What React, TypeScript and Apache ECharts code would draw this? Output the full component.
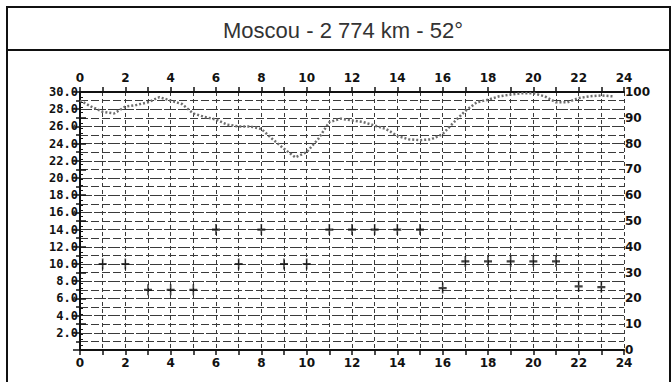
import React, { useEffect, useRef } from "react";
import * as echarts from "echarts";

const TITLE = "Moscou - 2 774 km - 52°";

// Dotted grey curve (left axis), sampled every half hour
const curveHours = [0, 0.5, 1, 1.5, 2, 2.5, 3, 3.5, 4, 4.5, 5, 5.5, 6, 6.5, 7, 7.5, 8, 8.5, 9, 9.5, 10, 10.5, 11, 11.5, 12, 12.5, 13, 13.5, 14, 14.5, 15, 15.5, 16, 16.5, 17, 17.5, 18, 18.5, 19, 19.5, 20, 20.5, 21, 21.5, 22, 22.5, 23, 23.5];
const curveValues = [29.0, 28.3, 27.7, 27.5, 28.3, 28.5, 28.8, 29.4, 29.0, 28.6, 27.5, 27.1, 26.8, 26.2, 26.0, 26.0, 25.7, 24.5, 23.4, 22.4, 23.0, 24.5, 26.5, 26.9, 26.7, 26.5, 26.1, 25.7, 24.9, 24.5, 24.4, 24.5, 25.1, 26.5, 27.8, 28.8, 29.1, 29.5, 29.7, 29.85, 29.85, 29.5, 28.8, 28.8, 29.3, 29.5, 29.6, 29.5];

// Black "+" marks (left axis), one per hour
const markHours = [1, 2, 3, 4, 5, 6, 7, 8, 9, 10, 11, 12, 13, 14, 15, 16, 17, 18, 19, 20, 21, 22, 23];
const markValues = [10, 10, 7, 7, 7, 14, 10, 14, 10, 10, 14, 14, 14, 14, 14, 7.2, 10.3, 10.3, 10.3, 10.3, 10.3, 7.4, 7.3];

const labelFont = "DejaVu Sans";
const monoFont = "DejaVu Sans Mono";

export default function App() {
  const ref = useRef<HTMLDivElement>(null);
  useEffect(() => {
    if (!ref.current) return;
    const chart = echarts.init(ref.current, undefined, { renderer: "svg" });
    const gridColor = "#3a3a3a";
    const xCommon = {
      type: "value" as const,
      min: 0,
      max: 24,
      interval: 2,
      axisLine: { show: true, onZero: false, lineStyle: { color: "#111", width: 2 } },
      axisTick: { show: true, length: 5, lineStyle: { color: "#111", width: 1.5 } },
      minorTick: { show: true, splitNumber: 2, length: 5, lineStyle: { color: "#111", width: 1.5 } },
      axisLabel: {
        color: "#111",
        fontFamily: labelFont,
        fontWeight: "bold" as const,
        fontSize: 12,
      },
    };
    chart.setOption({
      animation: false,
      backgroundColor: "#fff",
      grid: { left: 80, right: 47, top: 92, bottom: 32, containLabel: false },
      xAxis: [
        {
          ...xCommon,
          position: "bottom",
          axisLabel: { ...xCommon.axisLabel, margin: 7 },
          splitLine: { show: true, lineStyle: { color: gridColor, width: 1, type: [4, 3] } },
          minorSplitLine: { show: true, lineStyle: { color: gridColor, width: 1, type: [4, 3] } },
        },
        {
          ...xCommon,
          position: "top",
          axisLabel: { ...xCommon.axisLabel, margin: 8 },
          splitLine: { show: false },
          minorSplitLine: { show: false },
        },
      ],
      yAxis: [
        {
          type: "value",
          position: "left",
          min: 0,
          max: 30,
          interval: 2,
          axisLine: { show: true, lineStyle: { color: "#111", width: 2 } },
          axisTick: { show: true, length: 7, lineStyle: { color: "#111", width: 1.5 } },
          minorTick: { show: true, splitNumber: 2, length: 4, lineStyle: { color: "#111", width: 1.5 } },
          axisLabel: {
            color: "#111",
            fontFamily: monoFont,
            fontWeight: "bold",
            fontSize: 12,
            margin: 2,
            formatter: (v: number) => (v === 0 ? "" : v.toFixed(1)),
          },
          splitLine: { show: true, lineStyle: { color: gridColor, width: 1, type: [12, 2] } },
          minorSplitLine: { show: true, lineStyle: { color: gridColor, width: 1, type: [8, 3] } },
        },
        {
          type: "value",
          position: "right",
          min: 0,
          max: 100,
          interval: 10,
          axisLine: { show: true, lineStyle: { color: "#111", width: 2 } },
          axisTick: { show: true, length: 6, lineStyle: { color: "#111", width: 1.5 } },
          minorTick: { show: true, splitNumber: 5, length: 3, lineStyle: { color: "#111", width: 1 } },
          axisLabel: {
            color: "#111",
            fontFamily: labelFont,
            fontWeight: "bold",
            fontSize: 12,
            margin: 1,
          },
          splitLine: { show: false },
        },
      ],
      series: [
        {
          type: "line",
          xAxisIndex: 0,
          yAxisIndex: 0,
          data: curveHours.map((h, i) => [h, curveValues[i]]),
          symbol: "none",
          lineStyle: { color: "#6e6e6e", width: 2.5, type: [2, 2] },
          z: 3,
        },
        {
          type: "scatter",
          xAxisIndex: 0,
          yAxisIndex: 0,
          data: markHours.map((h, i) => [h, markValues[i]]),
          symbol: "path://M4,0H6V4H10V6H6V10H4V6H0V4H4Z",
          symbolSize: [8, 11],
          itemStyle: { color: "#111" },
          z: 4,
        },
      ],
      graphic: [
        {
          type: "rect",
          shape: { x: 7, y: 7, width: 663, height: 390 },
          style: { fill: "none", stroke: "#111", lineWidth: 2 },
          silent: true,
        },
        {
          type: "line",
          shape: { x1: 7, y1: 50, x2: 670, y2: 50 },
          style: { stroke: "#111", lineWidth: 2 },
          silent: true,
        },
        {
          type: "text",
          x: 343,
          y: 30,
          style: {
            text: TITLE,
            fill: "#333",
            font: "22px 'Liberation Sans', Arial, sans-serif",
            textAlign: "center",
            textVerticalAlign: "middle",
          },
          silent: true,
        },
      ],
    });
    return () => chart.dispose();
  }, []);
  return (
    <div
      ref={ref}
      style={{ position: "fixed", left: 0, top: 0, width: 671, height: 382 }}
    />
  );
}
